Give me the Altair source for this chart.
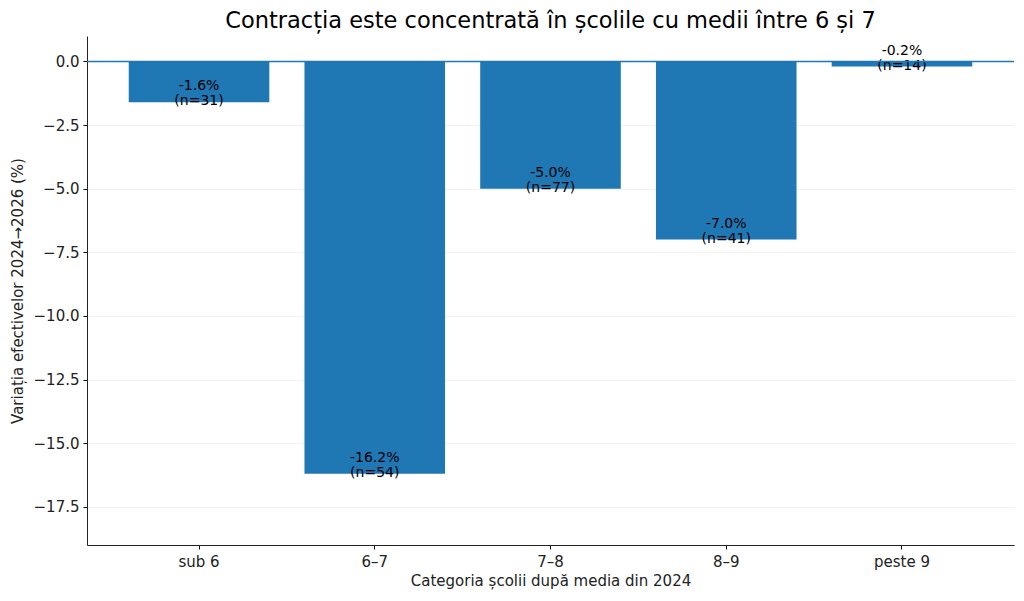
import altair as alt
import pandas as pd

categories = ["sub 6", "6–7", "7–8", "8–9", "peste 9"]
values = [-1.6, -16.2, -5.0, -7.0, -0.2]
counts = [31, 54, 77, 41, 14]

df = pd.DataFrame({
    "cat": categories,
    "val": values,
    "lbl": [f"{v:.1f}%\n(n={n})" for v, n in zip(values, counts)],
})

FONT = "DejaVu Sans"
BLUE = "#1f77b4"

x = alt.X("cat:N", sort=categories,
          scale=alt.Scale(paddingInner=0.2, paddingOuter=0.2375),
          axis=alt.Axis(title="Categoria școlii după media din 2024", labelAngle=0,
                        labelFontSize=15, titleFontSize=15, titleFontWeight="normal",
                        labelPadding=5, titlePadding=4, tickSize=4, tickColor="black",
                        domainColor="#222", labelColor="#222", titleColor="#222",
                        labelFont=FONT, titleFont=FONT, grid=False))
y = alt.Y("val:Q", scale=alt.Scale(domain=[-19, 1], nice=False, zero=False),
          axis=alt.Axis(title="Variația efectivelor 2024→2026 (%)",
                        values=[-17.5, -15, -12.5, -10, -7.5, -5, -2.5, 0],
                        format=".1f", labelFontSize=15, titleFontSize=15,
                        titleFontWeight="normal", labelFont=FONT, titleFont=FONT,
                        tickSize=4, tickColor="black", domainColor="#222",
                        labelColor="#222", titleColor="#222", labelPadding=4,
                        titlePadding=8, grid=True, gridColor="#eeeeee",
                        gridWidth=0.8))

base = alt.Chart(df)
bars = base.mark_bar(color=BLUE).encode(x=x, y=y, y2=alt.datum(0))
text = base.mark_text(baseline="bottom", align="center", fontSize=14, font=FONT,
                      lineBreak="\n", lineHeight=15, dy=-9, color="black").encode(
    x=x, y=y, text="lbl:N")
zero = alt.Chart(pd.DataFrame({"z": [0.0]})).mark_rule(strokeWidth=1.5, color=BLUE).encode(
    y=alt.Y("z:Q"))

chart = alt.layer(bars, text, zero).properties(
    width=927, height=509,
    title=alt.TitleParams("Contracția este concentrată în școlile cu medii între 6 și 7",
                          fontSize=22.5, font=FONT, fontWeight="normal", color="black",
                          offset=4),
    autosize=alt.AutoSizeParams(type="none"),
    padding={"left": 79, "top": 28, "right": 2, "bottom": 48},
).configure(font=FONT).configure_view(stroke=None)

chart.save("out.html", embed_options={"renderer": "svg", "actions": False})
